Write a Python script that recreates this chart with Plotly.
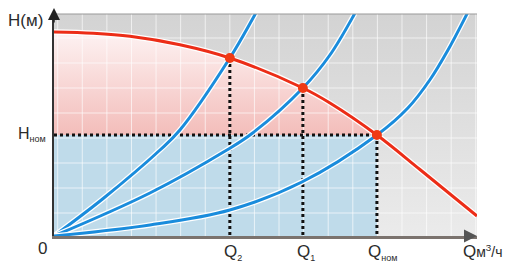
import plotly.graph_objects as go

# ---- data (grid units: Q horizontal, H vertical) ----
pump_q = [0.0, 1.6, 3.09, 5.12, 7.15, 10.12, 11.22, 13.13, 14.88, 17.2]
pump_h = [8.16, 8.11, 7.99, 7.65, 7.12, 5.92, 5.32, 4.04, 2.66, 0.80]

sys2_q = [0.0, 2.0, 4.31, 5.12, 7.15, 8.05, 8.25]
sys2_h = [0.0, 1.5, 3.44, 4.24, 7.12, 8.64, 9.0]

sys1_q = [0.0, 3.90, 7.03, 8.05, 10.12, 11.22, 12.15, 12.25]
sys1_h = [0.0, 1.72, 3.44, 4.10, 5.92, 7.24, 8.76, 8.95]

sysn_q = [0.0, 3.90, 7.15, 10.08, 13.13, 14.39, 15.28, 16.02, 16.79, 16.9]
sysn_h = [0.0, 0.44, 1.04, 2.16, 4.04, 5.12, 6.24, 7.44, 8.88, 9.1]

op_q = [7.15, 10.12, 13.13]
op_h = [7.12, 5.92, 4.04]
op_subs = ["2", "1", "ном"]

q_nom = op_q[2]
h_nom = op_h[2]

x_max = 17.2
y_max = 8.88
grid_x = [0.15 + i for i in range(18)]
grid_y = [0.92 + i for i in range(8)]

FONT = "Liberation Sans, Arial, sans-serif"
TXT = "#2b2b2b"
RED = "#ec2d17"
BLUE = "#1a8cdc"

fig = go.Figure()

# background gradient
fig.add_trace(go.Scatter(
    x=[0, x_max, x_max, 0, 0], y=[0, 0, y_max, y_max, 0],
    mode="lines", line=dict(width=0), fill="toself",
    fillgradient=dict(type="vertical", colorscale=[[0, "#ebebeb"], [1, "#d3d3d3"]]),
    hoverinfo="skip", showlegend=False))

# blue rectangle
fig.add_trace(go.Scatter(
    x=[0, q_nom, q_nom, 0, 0], y=[0, 0, h_nom, h_nom, 0],
    mode="lines", line=dict(width=0), fill="toself", fillcolor="#bfdbea",
    hoverinfo="skip", showlegend=False))

# pink region under pump curve
fig.add_trace(go.Scatter(
    x=[0, q_nom], y=[h_nom, h_nom], mode="lines", line=dict(width=0),
    hoverinfo="skip", showlegend=False))
sub_q = [q for q in pump_q if q <= q_nom]
sub_h = pump_h[:len(sub_q)]
fig.add_trace(go.Scatter(
    x=sub_q, y=sub_h, mode="lines", line=dict(width=0, shape="spline"),
    fill="tonexty",
    fillgradient=dict(type="vertical", start=h_nom, stop=max(pump_h),
                      colorscale=[[0, "#f3bdba"], [1, "#fdf2f2"]]),
    hoverinfo="skip", showlegend=False))

# grid lines (white, on top of fills)
gx, gy = [], []
for v in grid_x:
    gx += [v, v, None]
    gy += [0, y_max, None]
for v in grid_y:
    gx += [0, x_max, None]
    gy += [v, v, None]
fig.add_trace(go.Scatter(x=gx, y=gy, mode="lines",
                         line=dict(color="rgba(255,255,255,0.65)", width=1),
                         hoverinfo="skip", showlegend=False))

# dotted guide lines
dx, dy = [], []
for q, h in zip(op_q, op_h):
    dx += [q, q, None]
    dy += [h, 0, None]
dx += [0, q_nom]
dy += [h_nom, h_nom]
fig.add_trace(go.Scatter(x=dx, y=dy, mode="lines",
                         line=dict(color="#111111", width=3, dash="dot"),
                         hoverinfo="skip", showlegend=False))

# system curves
for xs, ys in [(sys2_q, sys2_h), (sys1_q, sys1_h), (sysn_q, sysn_h)]:
    fig.add_trace(go.Scatter(x=xs, y=ys, mode="lines",
                             line=dict(color="white", width=5.5, shape="spline"),
                             hoverinfo="skip", showlegend=False))
    fig.add_trace(go.Scatter(x=xs, y=ys, mode="lines",
                             line=dict(color=BLUE, width=3, shape="spline"),
                             hoverinfo="skip", showlegend=False))

# pump curve
fig.add_trace(go.Scatter(x=pump_q, y=pump_h, mode="lines",
                         line=dict(color="white", width=5.5, shape="spline"),
                         hoverinfo="skip", showlegend=False))
fig.add_trace(go.Scatter(x=pump_q, y=pump_h, mode="lines",
                         line=dict(color=RED, width=3, shape="spline"),
                         hoverinfo="skip", showlegend=False))

# operating points
fig.add_trace(go.Scatter(x=op_q, y=op_h, mode="markers",
                         marker=dict(color="#f03a14", size=10, line=dict(width=0)),
                         hoverinfo="skip", showlegend=False))

annotations = []
# Q labels
for q, s in zip(op_q, op_subs):
    lab = "Q<sub><span style='font-size:9px'>" + s + "</span></sub>"
    shift = 6 if s == "ном" else 3
    annotations.append(dict(x=q, y=0, xref="x", yref="y", text=lab, showarrow=False,
                            xanchor="center", yanchor="top", xshift=shift, yshift=-4,
                            font=dict(family=FONT, size=17, color=TXT)))
annotations += [
    dict(x=0, y=h_nom, xref="x", yref="y",
         text="H<sub><span style='font-size:9px'>ном</span></sub>", showarrow=False,
         xanchor="right", yanchor="middle", xshift=-6, yshift=1,
         font=dict(family=FONT, size=16, color=TXT)),
    dict(x=0, y=0, xref="x", yref="y", text="0", showarrow=False,
         xanchor="right", yanchor="top", xshift=-5, yshift=-1,
         font=dict(family=FONT, size=17, color=TXT)),
    dict(x=0, y=1, xref="paper", yref="paper", text="H(м)", showarrow=False,
         xanchor="right", yanchor="middle", xshift=-9, yshift=-6,
         font=dict(family=FONT, size=17, color=TXT)),
    dict(x=1, y=0, xref="paper", yref="paper",
         text="Q<span style='font-size:14px'>м<sup>3</sup>/ч</span>", showarrow=False,
         xanchor="left", yanchor="top", xshift=-16, yshift=-4,
         font=dict(family=FONT, size=17, color=TXT)),
    # axis arrows
    dict(x=1, y=0, xref="paper", yref="paper", text="", showarrow=True,
         ax=-14, ay=0, arrowhead=2, arrowsize=1.3, arrowwidth=2, arrowcolor="#555555"),
    dict(x=0, y=1 + 6 / 222, xref="paper", yref="paper", text="", showarrow=True,
         ax=0, ay=16, arrowhead=2, arrowsize=1.6, arrowwidth=1.5, arrowcolor="#222222"),
]

fig.update_layout(
    width=513, height=273,
    margin=dict(l=54, r=36, t=14, b=37),
    paper_bgcolor="white", plot_bgcolor="white",
    showlegend=False,
    annotations=annotations,
    shapes=[dict(type="line", xref="paper", yref="paper", x0=0, x1=1, y0=1, y1=1,
                 line=dict(color="#9a9a9a", width=1.2), layer="above")],
)
fig.update_xaxes(range=[0, x_max], showgrid=False, zeroline=False, showticklabels=False,
                 ticks="", showline=True, linecolor="#7b736e", linewidth=2.5)
fig.update_yaxes(range=[0, y_max], showgrid=False, zeroline=False, showticklabels=False,
                 ticks="", showline=True, linecolor="#333333", linewidth=1.5)

fig.write_html("out.html")
